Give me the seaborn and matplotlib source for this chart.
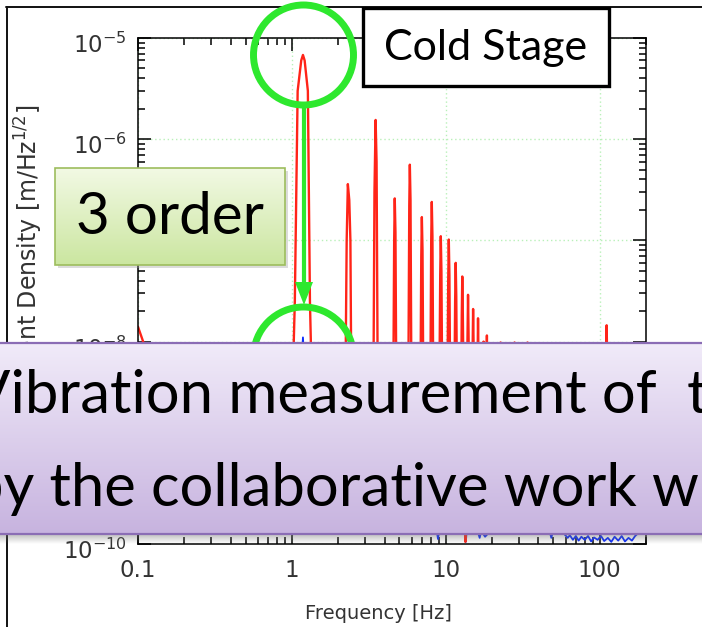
import numpy as np
import pandas as pd
import matplotlib
matplotlib.use('Agg')
import matplotlib.pyplot as plt
import matplotlib.transforms as mtransforms
import seaborn as sns
from matplotlib.patches import Circle, Rectangle, Polygon
from matplotlib.colors import LinearSegmentedColormap
from matplotlib.ticker import LogLocator, LogFormatterMathtext, NullFormatter

# cold stage spectrum (red) -- pulse-tube harmonics
red_freq = [0.10, 0.108, 0.13, 0.20, 0.50, 1.00,
            1.045, 1.09, 1.15, 1.18, 1.21, 1.27, 1.31, 1.36,
            2.22, 2.27, 2.31, 2.36, 2.40, 2.44,
            3.38, 3.44, 3.50, 3.55, 3.62,
            4.55, 4.62, 4.66, 4.71, 4.78,
            5.70, 5.79, 5.84, 5.90, 5.99,
            6.83, 6.93, 6.99, 7.06, 7.16,
            7.92, 8.04, 8.11, 8.19, 8.31,
            9.06, 9.20, 9.28, 9.37, 9.50,
            10.22, 10.37, 10.46, 10.56, 10.70,
            11.35, 11.50, 11.60, 11.70, 11.85,
            12.55, 12.70, 12.80, 12.90, 13.10,
            13.30, 13.40, 13.50,
            13.65, 13.85, 13.95, 14.05, 14.25,
            14.75, 14.95, 15.05, 15.15, 15.35,
            15.90, 16.10, 16.20, 16.30, 16.50,
            17.30, 17.50, 17.60, 17.70, 17.90,
            18.20, 18.40, 18.50, 18.60, 18.80,
            22.3, 22.7, 23.1,
            27.5, 28.0, 28.5,
            33.4, 34.0, 34.6,
            50.0, 80.0,
            108.0, 110.0, 111.0, 112.0, 114.0,
            200.0]
red_asd = [1.4e-8, 1.0e-8, 5e-9, 3e-9, 2e-9, 2e-9,
           2.5e-8, 3.0e-6, 6.0e-6, 6.8e-6, 6.0e-6, 3.0e-6, 2.5e-8, 2e-9,
           2e-9, 1.0e-7, 3.6e-7, 2.5e-7, 1.0e-7, 2e-9,
           2e-9, 3.0e-7, 1.55e-6, 6.0e-7, 2e-9,
           2e-9, 1.0e-7, 2.6e-7, 1.2e-7, 2e-9,
           2e-9, 2.2e-7, 5.6e-7, 2.5e-7, 2e-9,
           2e-9, 7.0e-8, 1.7e-7, 8.0e-8, 2e-9,
           2e-9, 1.0e-7, 2.4e-7, 1.1e-7, 2e-9,
           2e-9, 4.5e-8, 1.1e-7, 5.0e-8, 2e-9,
           2e-9, 4.0e-8, 1.02e-7, 4.5e-8, 2e-9,
           2e-9, 2.5e-8, 6.0e-8, 2.8e-8, 2e-9,
           2e-9, 1.8e-8, 4.4e-8, 2.0e-8, 2e-9,
           1.5e-9, 1.05e-10, 1.5e-9,
           2e-9, 1.2e-8, 2.9e-8, 1.3e-8, 2e-9,
           2e-9, 9.0e-9, 2.1e-8, 1.0e-8, 2e-9,
           2e-9, 7.0e-9, 1.7e-8, 8.0e-9, 2e-9,
           2e-9, 5.0e-9, 1.0e-8, 5.0e-9, 2e-9,
           2e-9, 5.0e-9, 1.15e-8, 5.0e-9, 2e-9,
           2e-9, 9.8e-9, 2e-9,
           2e-9, 9.8e-9, 2e-9,
           2e-9, 9.8e-9, 2e-9,
           1.5e-9, 1.3e-9,
           1.5e-9, 6.0e-9, 1.45e-8, 6.0e-9, 1.5e-9,
           1.2e-9]

# after the fix (blue) -- mostly buried near 1e-10
blue_freq = [0.10, 0.15, 0.25, 0.40, 0.60, 0.90,
             1.08, 1.13, 1.16, 1.18, 1.20, 1.23, 1.28,
             1.60, 2.00, 2.28, 2.31, 2.34, 2.80,
             3.47, 3.51, 3.55, 4.20, 5.80, 5.84, 5.88,
             7.0, 8.0, 8.7, 8.9, 9.1, 10.5, 12.0,
             13.3, 13.5, 13.7, 15.0, 16.2, 16.6, 17.0, 18.0, 20.0,
             25.0, 30.0, 38.0, 45.0, 47.5, 48.5, 49.5, 55.0, 59.0,
             62.0, 64.0, 67.0, 70.0, 73.0, 76.0, 80.0, 84.0, 88.0,
             92.0, 97.0, 102.0, 107.0, 113.0, 119.0, 125.0, 132.0,
             139.0, 146.0, 154.0, 162.0, 170.0, 185.0, 200.0]
blue_asd = [4e-10, 3e-10, 2.5e-10, 2.2e-10, 2e-10, 2.2e-10,
            3e-10, 2e-9, 7e-9, 1.1e-8, 7e-9, 2e-9, 3e-10,
            2e-10, 1.8e-10, 2e-10, 6e-10, 2e-10, 1.7e-10,
            2e-10, 1.2e-9, 2e-10, 1.6e-10, 1.8e-10, 5e-10, 1.8e-10,
            1.6e-10, 1.5e-10, 1.4e-10, 1.12e-10, 1.4e-10, 1.5e-10, 1.4e-10,
            1.4e-10, 1.05e-10, 1.4e-10, 1.45e-10, 1.3e-10, 1.15e-10, 1.35e-10, 1.18e-10, 1.4e-10,
            1.4e-10, 1.35e-10, 1.4e-10, 1.35e-10, 1.3e-10, 1.15e-10, 1.3e-10, 1.3e-10, 1.25e-10,
            1.15e-10, 1.22e-10, 1.1e-10, 1.2e-10, 1.08e-10, 1.18e-10, 1.1e-10, 1.2e-10, 1.06e-10,
            1.16e-10, 1.1e-10, 1.2e-10, 1.07e-10, 1.15e-10, 1.05e-10, 1.18e-10, 1.08e-10,
            1.2e-10, 1.06e-10, 1.15e-10, 1.08e-10, 1.2e-10, 1.35e-10, 1.4e-10]

x_ticks = [0.1, 1, 10, 100]
x_tick_labels = ['0.1', '1', '10', '100']
banner_lines = ['Vibration measurement of  the', 'by the collaborative work with']

sns.set_style('ticks')
plt.rcParams['font.family'] = ['DejaVu Sans']
plt.rcParams['mathtext.fontset'] = 'dejavusans'

W, H = 702, 627
fig = plt.figure(figsize=(W / 100, H / 100), dpi=100)
fig.patch.set_facecolor('white')


def px_axes(x0, y0, x1, y1):
    return fig.add_axes([x0 / W, 1 - y1 / H, (x1 - x0) / W, (y1 - y0) / H])


# ---- the spectrum plot ----
ax = px_axes(138, 38, 646, 544)
ax.set(xscale='log', yscale='log')
red = pd.DataFrame({'freq': red_freq, 'asd': red_asd})
blue = pd.DataFrame({'freq': blue_freq, 'asd': blue_asd})
sns.lineplot(data=blue, x='freq', y='asd', ax=ax, color='#0a2cff', lw=1.3,
             estimator=None, sort=False)
sns.lineplot(data=red, x='freq', y='asd', ax=ax, color='#ff2418', lw=1.7,
             estimator=None, sort=False)
ax.set_xlim(0.1, 200)
ax.set_ylim(1e-10, 1e-5)
ax.set_xticks(x_ticks)
ax.set_xticklabels(x_tick_labels)
ax.xaxis.set_minor_locator(LogLocator(base=10, subs=np.arange(2, 10), numticks=20))
ax.xaxis.set_minor_formatter(NullFormatter())
ax.yaxis.set_major_locator(LogLocator(base=10, numticks=10))
ax.yaxis.set_major_formatter(LogFormatterMathtext())
ax.yaxis.set_minor_locator(LogLocator(base=10, subs=np.arange(2, 10), numticks=20))
ax.yaxis.set_minor_formatter(NullFormatter())
ax.grid(which='major', color='#b9f0b9', ls=(0, (1, 2)), lw=1.0)
ax.tick_params(which='both', direction='in', top=True, right=True, width=1.1,
               color='black', labelcolor='#333333')
ax.tick_params(which='major', length=9.5, labelsize=16.5)
ax.tick_params(which='minor', length=5)
ax.tick_params(axis='x', which='major', pad=11)
ax.tick_params(axis='y', which='major', pad=8)
for s in ax.spines.values():
    s.set_linewidth(1.1)
    s.set_color('black')
ax.set_xlabel('Frequency [Hz]', fontsize=14, color='#333333')
ax.set_ylabel('Displacement Density [m/Hz$^{1/2}$]', fontsize=17, color='#333333')
ax.xaxis.set_label_coords((378 - 138) / 508, (544 - 604) / 506)
ax.yaxis.set_label_coords((45 - 138) / 508, 0.5)

# ---- slide overlay (pixel coordinates) ----
ov = fig.add_axes([0, 0, 1, 1])
ov.axis('off')

# frame of the pasted picture
ov.plot([6.5, 6.5], [7, H], color='#111111', lw=1.4, zorder=2)
ov.plot([6, W], [7, 7], color='#111111', lw=1.4, zorder=2)

green = '#2ee82e'
ov.add_patch(Circle((303.5, 55), 50, fill=False, ec=green, lw=5, zorder=5))
ov.add_patch(Circle((303.5, 357), 50, fill=False, ec=green, lw=5, zorder=5))
ov.plot([304, 304], [104, 284], color=green, lw=3, zorder=5, solid_capstyle='butt')
ov.add_patch(Polygon([[295, 282], [313, 282], [304, 305]], closed=True,
                     fc=green, ec='none', zorder=5))

# "Cold Stage" label box
ov.add_patch(Rectangle((363, 8), 246, 78, fc='white', ec='black', lw=2.4, zorder=6))
ov.text(486, 48, 'Cold Stage', family='Lato', fontsize=31, ha='center',
        va='center', color='black', zorder=7)

grad = np.linspace(0, 1, 256).reshape(-1, 1)

# "3 order" callout
ov.add_patch(Rectangle((58, 171), 230, 97, fc='#9a9a9a', ec='none', alpha=0.35, zorder=5))
g_cmap = LinearSegmentedColormap.from_list('g', ['#f2f9e4', '#cbe6a0'])
ov.imshow(grad, extent=(55, 285, 265, 168), cmap=g_cmap, aspect='auto', zorder=6)
ov.add_patch(Rectangle((55, 168), 230, 97, fill=False, ec='#9dbd5d', lw=1.2, zorder=7))
ov.text(170, 218, '3 order', family='Lato', fontsize=42, ha='center',
        va='center', color='black', zorder=8)

# banner with shadow
shadow = np.zeros((32, 1, 4))
shadow[..., :3] = 0.45
shadow[:, 0, 3] = np.linspace(0.5, 0.0, 32)
ov.imshow(shadow, extent=(-5, W + 10, 544, 533), aspect='auto', zorder=9)
p_cmap = LinearSegmentedColormap.from_list('p', ['#f1ebf9', '#c7b3df'])
ov.imshow(grad, extent=(-5, W + 10, 534, 343), cmap=p_cmap, aspect='auto', zorder=10)
ov.add_patch(Rectangle((-5, 343), W + 15, 191, fill=False, ec='#8b6db5', lw=1.6, zorder=11))
ov.text(-30, 413, banner_lines[0], family='Lato', fontsize=43, ha='left',
        va='baseline', color='black', zorder=12)
ov.text(-30, 506, banner_lines[1], family='Lato', fontsize=43, ha='left',
        va='baseline', color='black', zorder=12)

ov.set_xlim(0, W)
ov.set_ylim(H, 0)

# Igor centres the whole "10^n" block on the tick: nudge the labels down ~5 px
fig.canvas.draw()
nudge = mtransforms.ScaledTranslation(0, -0.05, fig.dpi_scale_trans)
for tick in ax.yaxis.get_major_ticks():
    tick.label1.set_transform(tick.label1.get_transform() + nudge)

fig.savefig('out.png', dpi=100)
